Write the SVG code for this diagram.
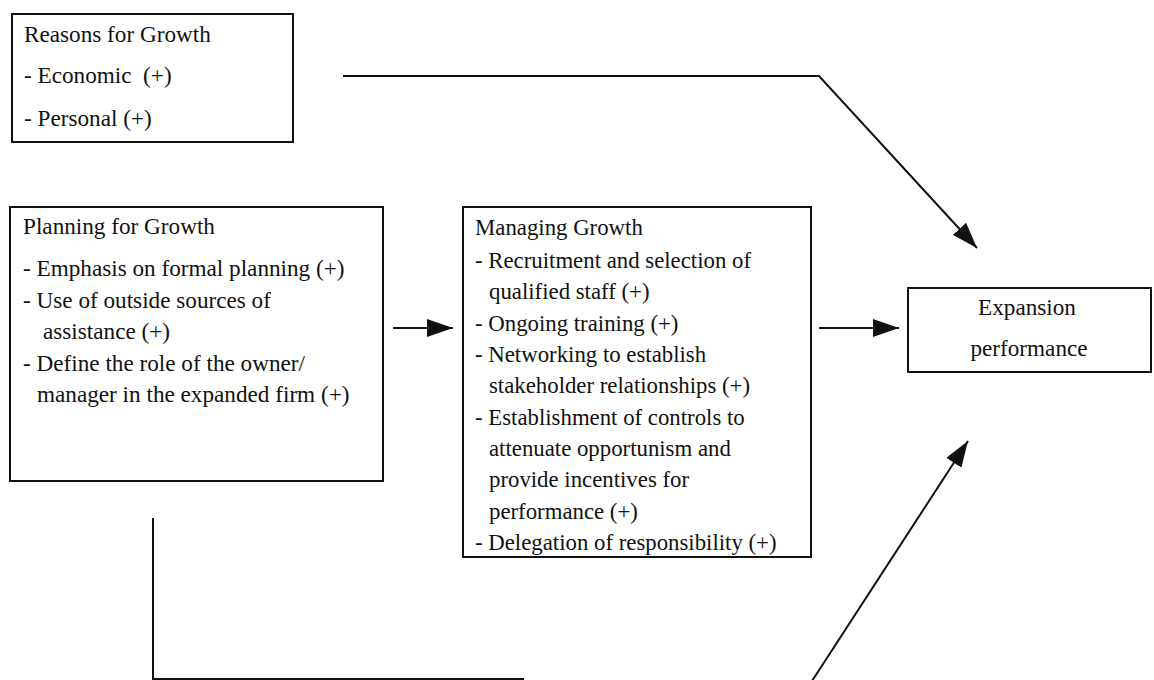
<svg xmlns="http://www.w3.org/2000/svg" width="1154" height="680" viewBox="0 0 1154 680">
<defs>
<style>
.box{fill:#fff;stroke:#111;stroke-width:2}
.t{font-family:"Liberation Serif","Times New Roman",serif;font-size:23.2px;fill:#111}
.m{font-size:22.8px}
.c{fill:none;stroke:#111;stroke-width:2}
.mid{text-anchor:middle}
</style>
<marker id="ah" markerUnits="userSpaceOnUse" markerWidth="27" markerHeight="18" refX="26" refY="9" orient="auto">
<path d="M0,0 L26,9 L0,18 z" fill="#111"/>
</marker>
</defs>
<rect width="1154" height="680" fill="#fff"/>
<g id="connectors">
<polyline class="c" points="343,76 819,76 977,248" marker-end="url(#ah)"/>
<line class="c" x1="393" y1="328" x2="453" y2="328" marker-end="url(#ah)"/>
<line class="c" x1="819" y1="328" x2="899" y2="328" marker-end="url(#ah)"/>
<polyline class="c" points="153,518 153,679 524,679"/>
<line class="c" x1="812" y1="681" x2="968" y2="441" marker-end="url(#ah)"/>
</g>
<g id="reasons">
<rect class="box" x="12" y="14" width="281" height="128"/>
<text class="t" x="24" y="42">Reasons for Growth</text>
<text class="t" x="24" y="83" xml:space="preserve">- Economic  (+)</text>
<text class="t" x="24" y="126">- Personal (+)</text>
</g>
<g id="planning">
<rect class="box" x="10" y="207" width="373" height="274"/>
<text class="t" x="23" y="234">Planning for Growth</text>
<text class="t" x="23" y="276">- Emphasis on formal planning (+)</text>
<text class="t" x="23" y="307.5">- Use of outside sources of</text>
<text class="t" x="43" y="339">assistance (+)</text>
<text class="t" x="23" y="370.5">- Define the role of the owner/</text>
<text class="t" x="37" y="402">manager in the expanded firm (+)</text>
</g>
<g id="managing">
<rect class="box" x="463" y="207" width="348" height="350"/>
<text class="t m" x="475" y="235">Managing Growth</text>
<text class="t m" x="475" y="268">- Recruitment and selection of</text>
<text class="t m" x="489" y="299.3">qualified staff (+)</text>
<text class="t m" x="475" y="330.7">- Ongoing training (+)</text>
<text class="t m" x="475" y="362">- Networking to establish</text>
<text class="t m" x="489" y="393.3">stakeholder relationships (+)</text>
<text class="t m" x="475" y="424.7">- Establishment of controls to</text>
<text class="t m" x="489" y="456">attenuate opportunism and</text>
<text class="t m" x="489" y="487.3">provide incentives for</text>
<text class="t m" x="489" y="518.7">performance (+)</text>
<text class="t m" x="475" y="550">- Delegation of responsibility (+)</text>
</g>
<g id="expansion">
<rect class="box" x="908" y="288" width="243" height="84"/>
<text class="t mid" x="1027" y="315">Expansion</text>
<text class="t mid" x="1029" y="356">performance</text>
</g>
</svg>
